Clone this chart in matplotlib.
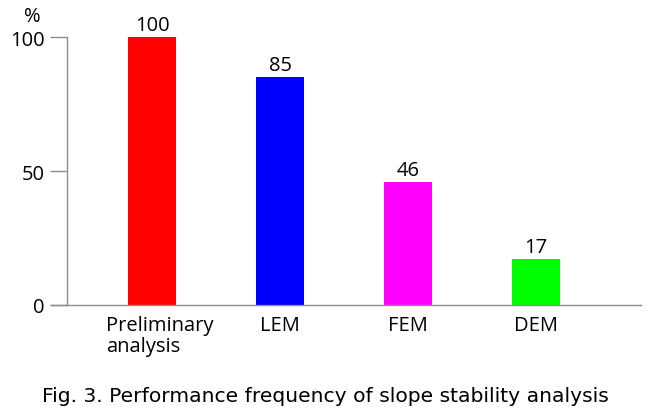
import matplotlib.pyplot as plt
import matplotlib.transforms as mtransforms

# data
categories = ["Preliminary\nanalysis", "LEM", "FEM", "DEM"]
values = [100, 85, 46, 17]
colors = ["#ff0000", "#0000ff", "#ff00ff", "#00ff00"]
yticks = [0, 50, 100]

plt.rcParams['font.family'] = ['Open Sans', 'DejaVu Sans']

fig = plt.figure(figsize=(6.61, 4.14), dpi=100)
ax = fig.add_axes([51 / 661, 108 / 414, 590 / 661, 268 / 414])

x = list(range(len(categories)))
bars = ax.bar(x, values, width=0.375, color=colors)

# value labels on top of the bars
for b, v in zip(bars, values):
    ax.annotate(str(v), (b.get_x() + b.get_width() / 2, v),
                xytext=(0, 1.5), textcoords="offset points",
                ha="center", va="bottom", fontsize=14.5, color="black")

ax.set_xlim(-0.79, 3.82)
ax.set_ylim(0, 100)

# spines: y axis sits a little right of where the x axis starts
for s in ["top", "right"]:
    ax.spines[s].set_visible(False)
ax.spines["left"].set_position(("data", -0.665))
for s in ["left", "bottom"]:
    ax.spines[s].set_color("#8c8c8c")
    ax.spines[s].set_linewidth(1.0)

ax.set_yticks(yticks)
ax.set_yticklabels([str(t) for t in yticks], fontsize=14.5)
ax.tick_params(axis="y", length=12, color="#8c8c8c", width=1.0, pad=4)

ax.set_xticks(x)
ax.set_xticklabels(categories, fontsize=14.5, linespacing=1.1, va="top",
                   multialignment="left")
ax.tick_params(axis="x", length=0, pad=7)
# first label sits a bit right of its bar in the reference
lbl = ax.get_xticklabels()[0]
lbl.set_transform(lbl.get_transform() +
                  mtransforms.ScaledTranslation(8 / 100, 0, fig.dpi_scale_trans))

ax.text(-0.87, 104, "%", transform=ax.transData, fontsize=14.5,
        ha="right", va="bottom", clip_on=False)

fig.text(325 / 661, 1 - 397 / 414, "Fig. 3. Performance frequency of slope stability analysis",
         family=["DejaVu Sans"], fontsize=14.6,
         ha="center", va="center")

fig.savefig("out.png", dpi=100)
